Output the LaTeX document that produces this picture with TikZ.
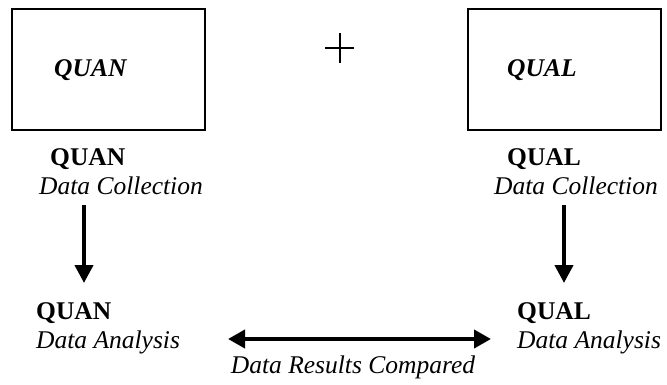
\documentclass[tikz,border=0pt]{standalone}
\usepackage{fontspec}
\setmainfont{Liberation Serif}
\usetikzlibrary{arrows.meta}
\tikzset{
  boxnode/.style={draw, line width=1.5pt, minimum width=193pt, minimum height=121pt, inner sep=0pt},
  lbl/.style={anchor=base west, inner sep=0pt},
  bl/.style={font=\fontsize{25.5}{30}\selectfont\bfseries},
  it/.style={font=\fontsize{25.5}{30}\selectfont\itshape},
  bi/.style={font=\fontsize{25.5}{30}\selectfont\bfseries\itshape},
  bigarrow/.style={line width=4pt, -{Triangle[width=18pt,length=18pt]}},
  dblarrow/.style={line width=4pt, {Triangle[width=18pt,length=17pt]}-{Triangle[width=18pt,length=17pt]}}
}
\begin{document}
\begin{tikzpicture}[x=1pt,y=-1pt]
\useasboundingbox (0,0) rectangle (667,385);
% boxes
\node[boxnode] (quanbox) at (108.5,69.5) {};
\node[boxnode] (qualbox) at (564.5,69.5) {};
\node[lbl, bi] (quanin) at (54,77) {QUAN};
\node[lbl, bi] (qualin) at (507,77) {QUAL};
% plus
\draw[line width=2pt] (325,48) -- (354,48) (339.5,33) -- (339.5,63);
% top labels
\node[lbl, bl] (quant) at (50,166) {QUAN};
\node[lbl, it] (dcl) at (39,195) {Data Collection};
\node[lbl, bl] (qualt) at (507,166) {QUAL};
\node[lbl, it] (dcr) at (494,195) {Data Collection};
% bottom labels
\node[lbl, bl] (quanb) at (36,319) {QUAN};
\node[lbl, it] (dal) at (36,348) {Data Analysis};
\node[lbl, bl] (qualb) at (517,319) {QUAL};
\node[lbl, it] (dar) at (517,348) {Data Analysis};
\node[inner sep=0pt, anchor=base, it] (drc) at (353,373) {Data Results Compared};
% arrows
\coordinate (a1s) at (84,205);
\coordinate (a1e) at (84,283);
\coordinate (a2s) at (564,205);
\coordinate (a2e) at (564,283);
\coordinate (a3s) at (228,339);
\coordinate (a3e) at (491,339);
\draw[bigarrow] (a1s) -- (a1e);
\draw[bigarrow] (a2s) -- (a2e);
\draw[dblarrow] (a3s) -- (a3e);
\end{tikzpicture}
\end{document}
